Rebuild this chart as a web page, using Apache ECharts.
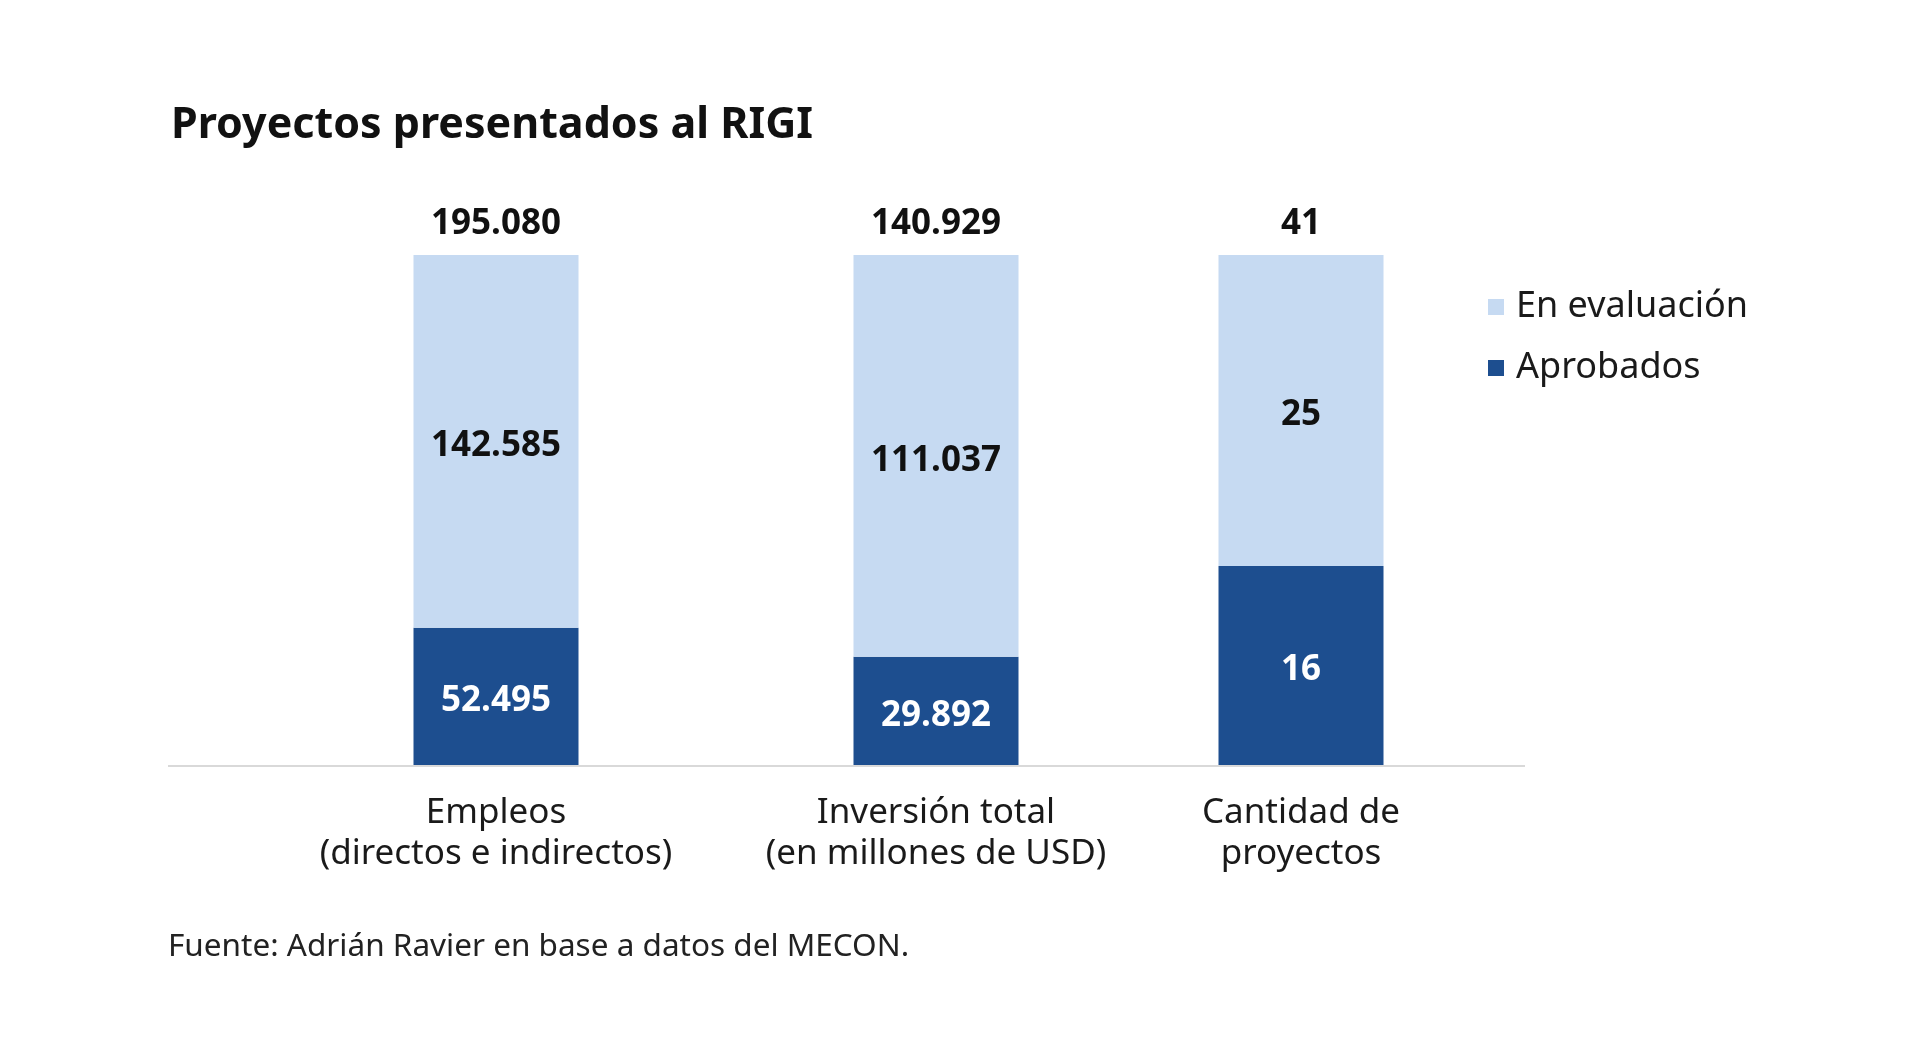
<!DOCTYPE html>
<html>
<head>
<meta charset="utf-8">
<script src="https://cdn.jsdelivr.net/npm/echarts@6/dist/echarts.min.js"></script>
<style>
  html, body { margin: 0; padding: 0; background: #fff; }
  #chart { width: 1920px; height: 1052px; }
</style>
</head>
<body>
<div id="chart"></div>
<script>
var categories = ['Empleos\n(directos e indirectos)', 'Inversión total\n(en millones de USD)', 'Cantidad de\nproyectos']
var aprobados = [52495, 29892, 16]
var enEvaluacion = [142585, 111037, 25]

var FONT = '"Noto Sans", sans-serif'
var LIGHT = '#c6daf2'
var DARK = '#1d4e8f'
// centro de cada barra en px (layout)
var centers = [496, 936, 1301]

function fmt (n) {
  return String(n).replace(/\B(?=(\d{3})+(?!\d))/g, '.')
}

var grids = []
var xAxes = []
var yAxes = []
var series = []

categories.forEach(function (cat, i) {
  var total = aprobados[i] + enEvaluacion[i]
  grids.push({ left: centers[i] - 100, width: 200, top: 255, height: 510 })
  xAxes.push({
    type: 'category',
    gridIndex: i,
    data: [cat],
    axisLine: { show: false },
    axisTick: { show: false },
    axisLabel: {
      interval: 0,
      margin: 28,
      fontFamily: FONT,
      fontSize: 35,
      lineHeight: 41,
      color: '#1a1a1a'
    }
  })
  yAxes.push({ type: 'value', gridIndex: i, min: 0, max: 100, show: false })
  series.push({
    name: 'Aprobados',
    type: 'bar',
    xAxisIndex: i,
    yAxisIndex: i,
    stack: 's' + i,
    barWidth: 165,
    itemStyle: { color: DARK },
    label: {
      show: true,
      position: 'inside',
      offset: [0, 5],
      formatter: function () { return fmt(aprobados[i]) },
      color: '#fff',
      fontFamily: FONT,
      fontWeight: 'bold',
      fontSize: 35
    },
    data: [aprobados[i] / total * 100]
  })
  series.push({
    name: 'En evaluación',
    type: 'bar',
    xAxisIndex: i,
    yAxisIndex: i,
    stack: 's' + i,
    barWidth: 165,
    itemStyle: { color: LIGHT },
    label: {
      show: true,
      position: 'inside',
      offset: [0, 5],
      formatter: function () { return fmt(enEvaluacion[i]) },
      color: '#111',
      fontFamily: FONT,
      fontWeight: 'bold',
      fontSize: 35
    },
    data: [enEvaluacion[i] / total * 100]
  })
  // total arriba de la barra
  series.push({
    name: 'Total',
    type: 'scatter',
    xAxisIndex: i,
    yAxisIndex: i,
    symbolSize: 1,
    itemStyle: { color: 'rgba(0,0,0,0)', opacity: 1 },
    label: {
      show: true,
      position: 'top',
      distance: 13,
      formatter: function () { return fmt(total) },
      color: '#111',
      fontFamily: FONT,
      fontWeight: 'bold',
      fontSize: 35
    },
    data: [100]
  })
})

var option = {
  backgroundColor: '#fff',
  animation: false,
  title: {
    text: 'Proyectos presentados al RIGI',
    left: 166,
    top: 99,
    textStyle: { fontFamily: FONT, fontWeight: 'bold', fontSize: 43, color: '#111' }
  },
  legend: {
    data: ['En evaluación', 'Aprobados'],
    orient: 'vertical',
    left: 1483,
    top: 284,
    icon: 'rect',
    itemWidth: 16,
    itemHeight: 16,
    itemGap: 25,
    textStyle: { fontFamily: FONT, fontSize: 36, color: '#1a1a1a', padding: [0, 0, 0, 7] }
  },
  grid: grids,
  xAxis: xAxes,
  yAxis: yAxes,
  series: series,
  graphic: [
    {
      type: 'line',
      shape: { x1: 168, y1: 766, x2: 1525, y2: 766 },
      style: { stroke: '#d9d9d9', lineWidth: 2 }
    },
    {
      type: 'text',
      left: 168,
      top: 931,
      style: {
        text: 'Fuente: Adrián Ravier en base a datos del MECON.',
        fontFamily: FONT,
        fontSize: 31.5,
        fill: '#222'
      }
    }
  ]
}

var myChart = echarts.init(document.getElementById('chart'))
myChart.setOption(option)
</script>
</body>
</html>
